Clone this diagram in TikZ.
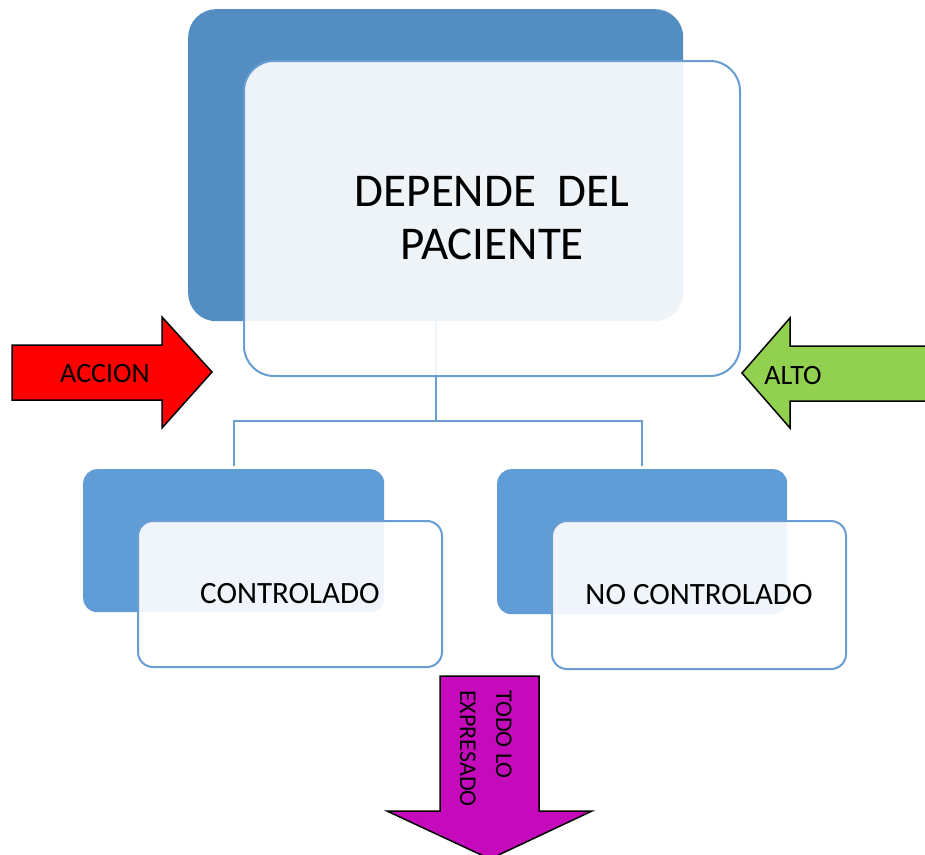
\documentclass[tikz,border=0pt]{standalone}
\usepackage{fontspec}
\setmainfont{Carlito}
\usetikzlibrary{positioning}
\definecolor{backblue}{RGB}{84,141,193}
\definecolor{boxblue}{RGB}{96,156,213}
\definecolor{edgeblue}{RGB}{106,157,210}
\definecolor{accionred}{RGB}{255,0,0}
\definecolor{altogreen}{RGB}{146,208,80}
\definecolor{todopurple}{RGB}{196,10,186}
\tikzset{
  backbox/.style={fill=#1,anchor=north west,inner sep=0pt},
  frontbox/.style={draw=edgeblue,line width=2pt,fill=white,fill opacity=.9,text opacity=1,
    anchor=north west,align=center,inner sep=0pt},
  link/.style={edgeblue,line width=2pt},
  bigarrow/.style={draw=black,line width=1.5pt,line join=miter},
}
\begin{document}
\begin{tikzpicture}[x=1pt,y=-1pt]
  \useasboundingbox[fill=white] (0,0) rectangle (925,854);
  \node[backbox=backblue,minimum width=495pt,minimum height=312pt,rounded corners=28pt] (mainback) at (188,9) {};
  \node[backbox=boxblue,minimum width=301pt,minimum height=143pt,rounded corners=14pt] (leftback) at (83,469) {};
  \node[backbox=boxblue,minimum width=290pt,minimum height=145pt,rounded corners=14pt] (rightback) at (497,469) {};
  \coordinate (split) at ([yshift=-100pt]mainback.south);
  \draw[link] (mainback.south) -- (split) -| ([yshift=3pt]leftback.north);
  \draw[link] (split) -| ([yshift=3pt]rightback.north);
  \node[frontbox,minimum width=496pt,minimum height=315pt,rounded corners=30pt,
    font=\fontsize{47}{53}\selectfont] (main) at (243,60) {DEPENDE\ \ DEL\\PACIENTE};
  \node[frontbox,minimum width=304pt,minimum height=146pt,rounded corners=15pt,
    font=\fontsize{31}{37}\selectfont] (controlado) at (137,520) {CONTROLADO};
  \node[frontbox,minimum width=294pt,minimum height=148pt,rounded corners=15pt,
    font=\fontsize{31}{37}\selectfont] (nocontrolado) at (551,520) {NO CONTROLADO};
  \begin{scope}[bigarrow]
    \draw[fill=accionred] (12,345) -- (162,345) -- (162,317) -- (212,372) -- (162,428) -- (162,400) -- (12,400) -- cycle;
    \draw[fill=altogreen] (742,373) -- (790,318) -- (790,346) -- (935,346) -- (935,401) -- (790,401) -- (790,428) -- cycle;
    \draw[fill=todopurple] (440,676) -- (539,676) -- (539,811) -- (592,811) -- (490,859) -- (387,811) -- (440,811) -- cycle;
  \end{scope}
  \node[font=\fontsize{28}{34}\selectfont] (accion) at (105,374) {ACCION};
  \node[font=\fontsize{28}{34}\selectfont] (alto) at (793,376) {ALTO};
  \node[rotate=-90,anchor=north west,inner sep=0pt,align=left,
    font=\fontsize{24}{36}\selectfont] (todo) at (512,690) {TODO LO\\EXPRESADO};
\end{tikzpicture}
\end{document}
